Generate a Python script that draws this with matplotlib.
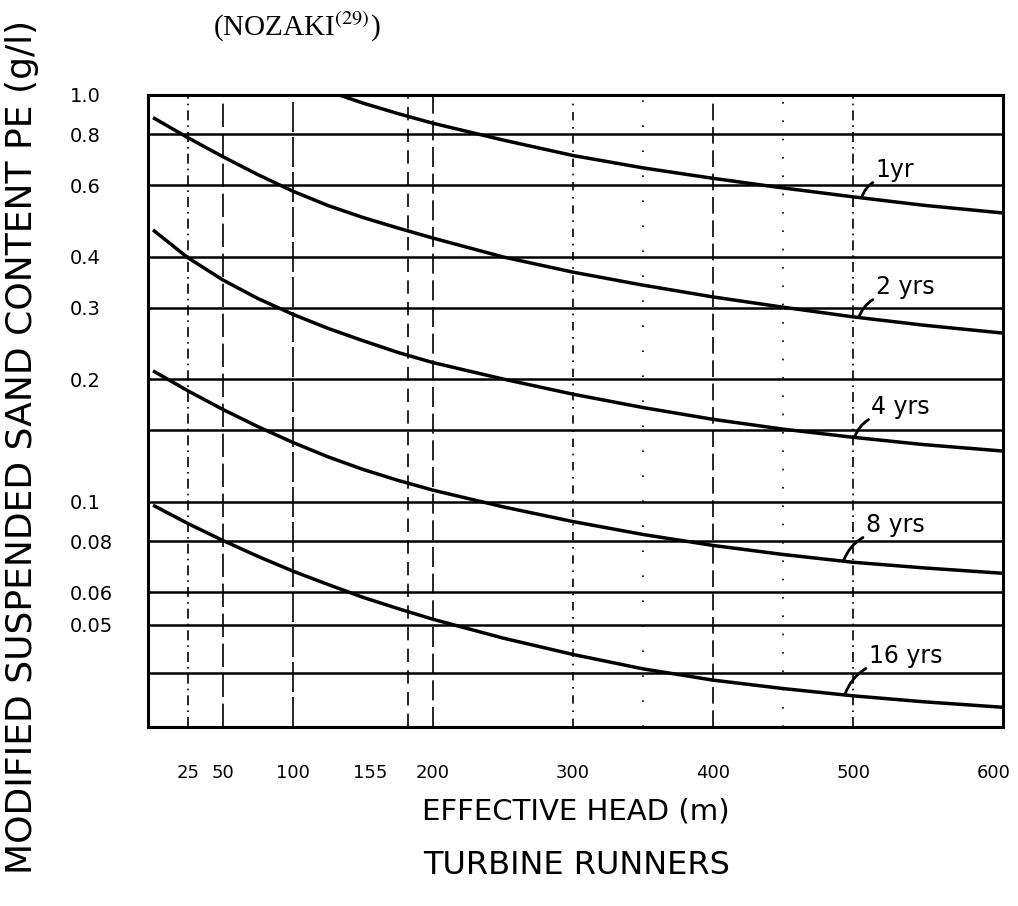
import matplotlib
matplotlib.use('Agg')
import numpy as np
import matplotlib.pyplot as plt
from matplotlib.ticker import FixedLocator, NullFormatter

hauteur_1an = [133, 150, 175, 200, 250, 300, 350, 400, 450, 500, 550, 607]
pe_1an = [1.0, 0.955, 0.90, 0.852, 0.775, 0.710, 0.662, 0.624, 0.591, 0.562, 0.536, 0.513]

hauteur = [0, 25, 50, 75, 100, 125, 150, 175, 200, 250, 300, 350, 400, 450, 500, 550, 607]
pe_2ans = [0.88, 0.785, 0.705, 0.637, 0.580, 0.535, 0.50, 0.471, 0.445, 0.40, 0.367, 0.341, 0.319, 0.301, 0.285, 0.272, 0.26]
pe_4ans = [0.466, 0.398, 0.351, 0.316, 0.289, 0.267, 0.249, 0.233, 0.220, 0.2005, 0.184, 0.1706, 0.1596, 0.151, 0.1442, 0.1384, 0.1334]
pe_8ans = [0.21, 0.1875, 0.1687, 0.1531, 0.140, 0.1291, 0.1202, 0.113, 0.1069, 0.0973, 0.0895, 0.0832, 0.0782, 0.0743, 0.0711, 0.0689, 0.0668]
pe_16ans = [0.0982, 0.0885, 0.0804, 0.0735, 0.0676, 0.0627, 0.0583, 0.0547, 0.0515, 0.0463, 0.0422, 0.0389, 0.0365, 0.0348, 0.0334, 0.0323, 0.0313]

etiquettes_courbes = ['1yr', '2 yrs', '4 yrs', '8 yrs', '16 yrs']

# Graduations
pe_gradues = [1.0, 0.8, 0.6, 0.4, 0.3, 0.2, 0.1, 0.08, 0.06, 0.05]
etiquettes_pe = ['1.0', '0.8', '0.6', '0.4', '0.3', '0.2', '0.1', '0.08', '0.06', '0.05']
pe_lignes_sans_etiquette = [0.15, 0.038]
hauteurs_graduees = [25, 50, 100, 155, 200, 300, 400, 500, 600]
etiquettes_hauteur = ['25', '50', '100', '155', '200', '300', '400', '500', '600']
hauteurs_verticales = [25, 50, 100, 182, 200, 300, 350, 400, 450, 500]

styles_verticales = [(0, (6, 3, 1, 3)), (0, (14, 4)), (0, (18, 3)), (0, (8, 5)), (0, (12, 4)),
                     (0, (5, 4, 1, 4)), (0, (1, 14)), (0, (10, 4)), (0, (1, 10)), (0, (6, 3, 1, 3))]

plt.rcParams['font.family'] = ['DejaVu Sans']
plt.rcParams['mathtext.fontset'] = 'stix'

fig = plt.figure(figsize=(10.18, 9.06), dpi=100)
ax = fig.add_axes([148 / 1018, 179 / 906, 855 / 1018, 632 / 906])

ax.set_yscale('log')
ax.set_xlim(-3.6, 607)
ax.set_ylim(0.028, 1.0)

# Lignes verticales irrégulières
for h, st in zip(hauteurs_verticales, styles_verticales):
    ax.axvline(h, color='black', linewidth=1.2, linestyle=st, zorder=1)

# Quadrillage horizontal
ax.yaxis.set_major_locator(FixedLocator(pe_gradues))
ax.set_yticklabels(etiquettes_pe)
ax.yaxis.set_minor_locator(FixedLocator(pe_lignes_sans_etiquette))
ax.yaxis.set_minor_formatter(NullFormatter())
ax.grid(True, axis='y', which='both', color='black', linewidth=1.8)
ax.set_axisbelow(True)

ax.set_xticks(hauteurs_graduees)
ax.set_xticklabels(etiquettes_hauteur)
ax.tick_params(axis='y', which='both', length=0, pad=56, labelsize=14)
ax.tick_params(axis='x', length=0, pad=27, labelsize=13)
for lab in ax.get_yticklabels():
    lab.set_ha('left')

for s in ax.spines.values():
    s.set_linewidth(2.2)

# Courbes
series = [(hauteur_1an, pe_1an), (hauteur, pe_2ans), (hauteur, pe_4ans), (hauteur, pe_8ans), (hauteur, pe_16ans)]
for (hx, py) in series:
    ax.plot(hx, py, color='black', linewidth=2.5, zorder=3, solid_capstyle='butt')

# Etiquettes avec petit trait de rappel
pos_etiquettes = [(516, 0.654), (516, 0.337), (513, 0.171), (509, 0.0877), (511, 0.0418)]
pos_rappel = [506, 504, 501, 493, 494]
for (hx, py), txt, (tx, ty), hr in zip(series, etiquettes_courbes, pos_etiquettes, pos_rappel):
    yr = np.interp(hr, hx, py)
    ax.annotate(txt, xy=(hr, yr), xytext=(tx, ty), fontsize=17, ha='left', va='center',
                arrowprops=dict(arrowstyle='-', lw=2, color='black', shrinkA=0, shrinkB=0,
                                relpos=(0.0, 0.05), connectionstyle='arc3,rad=0.2'),
                zorder=4)

ax.set_xlabel('EFFECTIVE HEAD (m)', fontsize=21, labelpad=11)
fig.text(577 / 1018, 1 - 866 / 906, 'TURBINE RUNNERS', fontsize=23, ha='center', va='center')
fig.text(22 / 1018, 1 - 447 / 906, 'MODIFIED SUSPENDED SAND CONTENT PE (g/l)', fontsize=26,
         rotation=90, ha='center', va='center')
fig.text(213 / 1018, 1 - 27 / 906, r'(NOZAKI$^{(29)}$)', family='Liberation Serif', fontsize=21,
         ha='left', va='center')

plt.savefig('out.png', dpi=100, facecolor='white')
